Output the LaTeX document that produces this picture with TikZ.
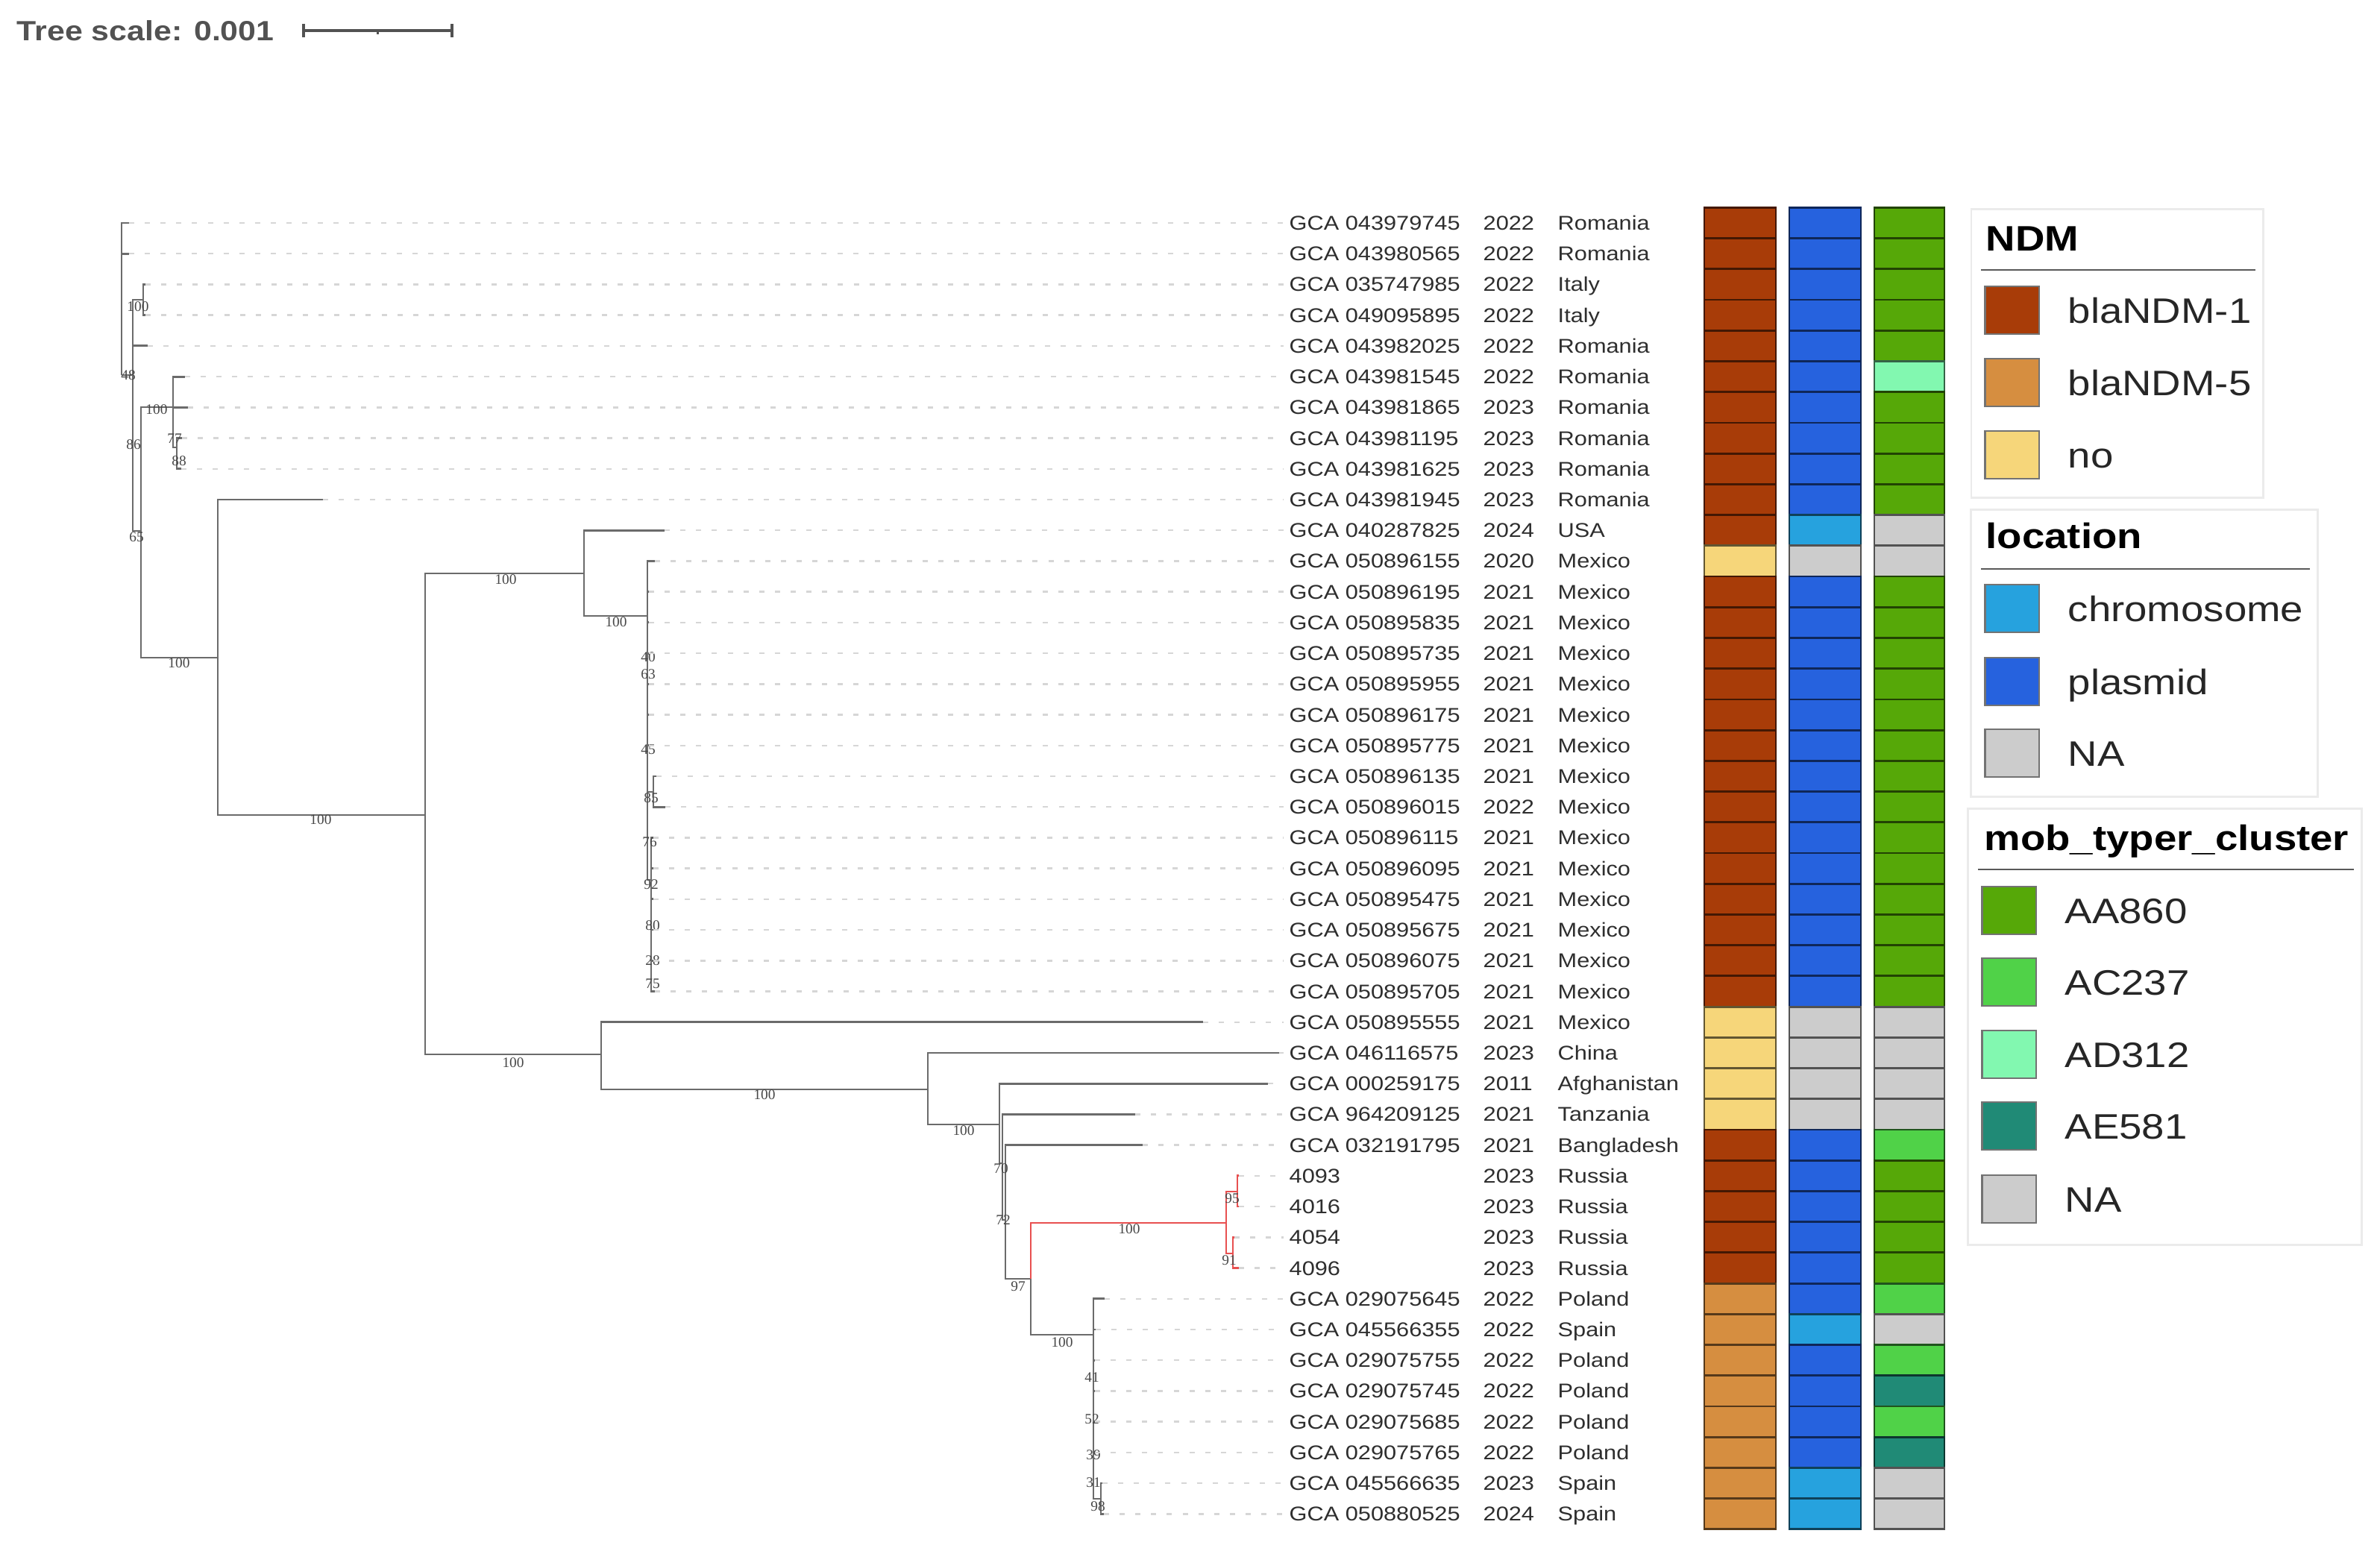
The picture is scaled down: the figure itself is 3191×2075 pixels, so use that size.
\documentclass[tikz,border=0pt]{standalone}
\usepackage{fontspec}
\setmainfont[FakeStretch=1.15]{Liberation Sans}
\newfontfamily\bootfont{Liberation Serif}
\usepackage{tikz}
\usetikzlibrary{positioning}

\definecolor{ndmone}{RGB}{168,60,8}
\definecolor{ndmfive}{RGB}{214,142,64}
\definecolor{ndmno}{RGB}{246,214,122}
\definecolor{chrom}{RGB}{38,162,222}
\definecolor{plasm}{RGB}{38,98,222}
\definecolor{nagrey}{RGB}{204,204,204}
\definecolor{aa}{RGB}{86,168,8}
\definecolor{ac}{RGB}{80,210,72}
\definecolor{ad}{RGB}{130,248,176}
\definecolor{ae}{RGB}{32,138,118}
\definecolor{redbr}{RGB}{232,80,80}

\begin{document}
\begin{tikzpicture}[x=0.01cm, y=-0.01cm]
	\tikzstyle{branch}=[draw=black!58, line width=0.8pt]
	\tikzstyle{red_branch}=[draw=redbr, line width=0.8pt]
	\tikzstyle{leader}=[draw=black!16, line width=0.7pt, dash pattern=on 2pt off 4pt, shorten >=2pt]
	\tikzstyle{boot}=[inner sep=0pt, text=black!72, font=\bootfont\fontsize{5.5}{5.5}\selectfont]
	\tikzstyle{leaf_lab}=[anchor=base west, inner sep=0pt, text=black!82, font=\fontsize{7.6}{9}\selectfont]
	\tikzstyle{cell_b}=[rectangle, inner sep=0pt, minimum height=0.4122cm, line width=0.8pt]
	\tikzstyle{leg_box}=[rectangle, draw=black!8, fill=white, line width=0.8pt, inner sep=0pt]
	\tikzstyle{leg_sw}=[rectangle, draw=black!55, line width=0.6pt, minimum width=0.72cm, minimum height=0.64cm, inner sep=0pt]
	\tikzstyle{leg_txt}=[anchor=base west, inner sep=0pt, text=black!85, font=\fontsize{13.5}{16}\selectfont]
	\tikzstyle{leg_title}=[anchor=base west, inner sep=0pt, text=black, font=\bfseries\fontsize{13.5}{16}\selectfont]

	\useasboundingbox (0,0) rectangle (3191,2075);
	\fill[white] (0,0) rectangle (3191,2075);

	% tree scale
	\node[anchor=base west, inner sep=0pt, text=black!68, font=\bfseries\fontsize{10.6}{12}\selectfont] (scale_lab) at (22,54) {Tree scale: 0.001};
	\coordinate (sb0) at (407,41);
	\coordinate (sb1) at (606,41);
	\coordinate (sbm) at (506.5,41);
	\draw[black!68, line width=1.1pt] (sb0) -- (sb1);
	\draw[black!68, line width=1.1pt] ([yshift=2.6pt]sb0) -- ([yshift=-2.6pt]sb0);
	\draw[black!68, line width=1.1pt] ([yshift=2.6pt]sb1) -- ([yshift=-2.6pt]sb1);
	\draw[black!68, line width=0.8pt] (sbm) -- ([yshift=-1.4pt]sbm);

	% internal nodes of the tree
	\coordinate (nA) at (163,503);
	\coordinate (nB) at (178,503);
	\coordinate (nC) at (192,402);
	\coordinate (n65) at (189,712);
	\coordinate (nD) at (232,546);
	\coordinate (nD3) at (237,600);
	\coordinate (nE) at (292,882);
	\coordinate (nF) at (570,1093);
	\coordinate (nG) at (783,769);
	\coordinate (nI) at (868,826);
	\coordinate (nI3) at (876,1062);
	\coordinate (nI2) at (873,1180);
	\coordinate (nH) at (806,1414);
	\coordinate (nJ) at (1244,1461);
	\coordinate (nK) at (1340,1508);
	\coordinate (nL) at (1344,1560);
	\coordinate (nM) at (1348,1636);
	\coordinate (nP) at (1382,1715);
	\coordinate (nR) at (1644,1640);
	\coordinate (nR1) at (1659,1598);
	\coordinate (nR2) at (1653,1681);
	\coordinate (nQ) at (1466,1790);
	\coordinate (nQ2) at (1476,2010);

	% leaf tips
	\foreach \i/\lx in {1/173, 2/173, 3/195, 4/195, 5/198, 6/248, 7/252, 8/244, 9/243, 10/433,
		11/891, 12/878, 13/870, 14/870, 15/870, 16/870, 17/870, 18/870, 19/880, 20/892,
		21/876, 22/876, 23/876, 24/876, 25/876, 26/878, 27/1613, 28/1715, 29/1700, 30/1522,
		31/1532, 32/1661, 33/1661, 34/1655, 35/1661, 36/1481, 37/1469, 38/1468, 39/1468, 40/1468,
		41/1468, 42/1478, 43/1480}
		\coordinate (l\i) at (\lx,{299+41.22*(\i-1)});

	% branches
	\foreach \p/\c in {nA/l1, nA/l2, nA/nB, nB/nC, nB/l5, nB/n65, nC/l3, nC/l4,
		n65/nD, n65/nE, nD/l6, nD/l7, nD/nD3, nD3/l8, nD3/l9, nE/l10, nE/nF,
		nF/nG, nF/nH, nG/l11, nG/nI, nI/l12, nI/l13, nI/l14, nI/l15, nI/l16, nI/l17, nI/l18,
		nI/nI3, nI/nI2, nI3/l19, nI3/l20, nI2/l21, nI2/l22, nI2/l23, nI2/l24, nI2/l25, nI2/l26,
		nH/l27, nH/nJ, nJ/l28, nJ/nK, nK/l29, nK/nL, nL/l30, nL/nM, nM/l31, nM/nP, nP/nQ,
		nQ/l36, nQ/l37, nQ/l38, nQ/l39, nQ/l40, nQ/l41, nQ/nQ2, nQ2/l42, nQ2/l43}
		\draw[branch] (\p) |- (\c);
	\foreach \p/\c in {nP/nR, nR/nR1, nR/nR2, nR1/l32, nR1/l33, nR2/l34, nR2/l35}
		\draw[red_branch] (\p) |- (\c);

	% bootstrap values
	\foreach \bt/\bx/\by [count=\k] in {100/185/411, 48/172/503, 100/210/549, 77/234/588, 86/179/596,
		88/240/618, 65/183/720, 100/240/889, 100/430/1099, 100/678/777, 100/826/834,
		40/869/881, 63/869/904, 45/869/1005, 85/873/1070, 76/871/1129, 92/873/1186, 80/875/1241,
		28/875/1288, 75/875/1319, 100/688/1425, 100/1025/1468, 100/1292/1516, 70/1342/1567,
		72/1345/1636, 97/1365/1725, 100/1514/1648, 95/1652/1607, 91/1648/1690, 100/1424/1800,
		41/1464/1847, 52/1464/1903, 39/1466/1951, 31/1466/1988, 98/1472/2020}
		\node[boot] (bs\k) at (\bx,\by) {\bt};

	% labels and colour strips
	\foreach \i/\acc/\yr/\ctry/\ca/\cb/\cc in {
		1/GCA 043979745/2022/Romania/ndmone/plasm/aa,
		2/GCA 043980565/2022/Romania/ndmone/plasm/aa,
		3/GCA 035747985/2022/Italy/ndmone/plasm/aa,
		4/GCA 049095895/2022/Italy/ndmone/plasm/aa,
		5/GCA 043982025/2022/Romania/ndmone/plasm/aa,
		6/GCA 043981545/2022/Romania/ndmone/plasm/ad,
		7/GCA 043981865/2023/Romania/ndmone/plasm/aa,
		8/GCA 043981195/2023/Romania/ndmone/plasm/aa,
		9/GCA 043981625/2023/Romania/ndmone/plasm/aa,
		10/GCA 043981945/2023/Romania/ndmone/plasm/aa,
		11/GCA 040287825/2024/USA/ndmone/chrom/nagrey,
		12/GCA 050896155/2020/Mexico/ndmno/nagrey/nagrey,
		13/GCA 050896195/2021/Mexico/ndmone/plasm/aa,
		14/GCA 050895835/2021/Mexico/ndmone/plasm/aa,
		15/GCA 050895735/2021/Mexico/ndmone/plasm/aa,
		16/GCA 050895955/2021/Mexico/ndmone/plasm/aa,
		17/GCA 050896175/2021/Mexico/ndmone/plasm/aa,
		18/GCA 050895775/2021/Mexico/ndmone/plasm/aa,
		19/GCA 050896135/2021/Mexico/ndmone/plasm/aa,
		20/GCA 050896015/2022/Mexico/ndmone/plasm/aa,
		21/GCA 050896115/2021/Mexico/ndmone/plasm/aa,
		22/GCA 050896095/2021/Mexico/ndmone/plasm/aa,
		23/GCA 050895475/2021/Mexico/ndmone/plasm/aa,
		24/GCA 050895675/2021/Mexico/ndmone/plasm/aa,
		25/GCA 050896075/2021/Mexico/ndmone/plasm/aa,
		26/GCA 050895705/2021/Mexico/ndmone/plasm/aa,
		27/GCA 050895555/2021/Mexico/ndmno/nagrey/nagrey,
		28/GCA 046116575/2023/China/ndmno/nagrey/nagrey,
		29/GCA 000259175/2011/Afghanistan/ndmno/nagrey/nagrey,
		30/GCA 964209125/2021/Tanzania/ndmno/nagrey/nagrey,
		31/GCA 032191795/2021/Bangladesh/ndmone/plasm/ac,
		32/4093/2023/Russia/ndmone/plasm/aa,
		33/4016/2023/Russia/ndmone/plasm/aa,
		34/4054/2023/Russia/ndmone/plasm/aa,
		35/4096/2023/Russia/ndmone/plasm/aa,
		36/GCA 029075645/2022/Poland/ndmfive/plasm/ac,
		37/GCA 045566355/2022/Spain/ndmfive/chrom/nagrey,
		38/GCA 029075755/2022/Poland/ndmfive/plasm/ac,
		39/GCA 029075745/2022/Poland/ndmfive/plasm/ae,
		40/GCA 029075685/2022/Poland/ndmfive/plasm/ac,
		41/GCA 029075765/2022/Poland/ndmfive/plasm/ae,
		42/GCA 045566635/2023/Spain/ndmfive/chrom/nagrey,
		43/GCA 050880525/2024/Spain/ndmfive/chrom/nagrey}
	{
		\pgfmathsetmacro\yy{299+41.22*(\i-1)}
		\node[leaf_lab] (lab\i) at (1728,{\yy+9.5}) {\acc};
		\node[leaf_lab] (yr\i) at (1988,{\yy+9.5}) {\yr};
		\node[leaf_lab] (ct\i) at (2088,{\yy+9.5}) {\ctry};
		\draw[leader] (l\i) -- (l\i -| lab\i.west);
		\node[cell_b, minimum width=0.96cm, fill=\ca, draw=\ca!40!black] (ca\i) at (2333,\yy) {};
		\node[cell_b, minimum width=0.96cm, fill=\cb, draw=\cb!40!black] (cb\i) at (2447,\yy) {};
		\node[cell_b, minimum width=0.94cm, fill=\cc, draw=\cc!40!black] (cc\i) at (2560,\yy) {};
	}

	% legend NDM
	\node[leg_box, minimum width=3.91cm, minimum height=3.86cm] (box_ndm) at (2838.5,474) {};
	\node[leg_title] (t_ndm) at (2662,336) {NDM};
	\draw[black!65, line width=0.6pt] (2656,362) -- (3024,362);
	\foreach \col/\txt/\yc [count=\k] in {ndmone/blaNDM-1/416, ndmfive/blaNDM-5/513, ndmno/no/610} {
		\node[leg_sw, fill=\col] (sw_ndm\k) at (2697.5,\yc) {};
		\node[leg_txt] (tx_ndm\k) at (2772,{\yc+17}) {\txt};
	}

	% legend location
	\node[leg_box, minimum width=4.64cm, minimum height=3.84cm] (box_loc) at (2875,876) {};
	\node[leg_title] (t_loc) at (2662,735) {location};
	\draw[black!65, line width=0.6pt] (2656,763) -- (3097,763);
	\foreach \col/\txt/\yc [count=\k] in {chrom/chromosome/816, plasm/plasmid/914, nagrey/NA/1010} {
		\node[leg_sw, fill=\col] (sw_loc\k) at (2697.5,\yc) {};
		\node[leg_txt] (tx_loc\k) at (2772,{\yc+17}) {\txt};
	}

	% legend mob_typer_cluster
	\node[leg_box, minimum width=5.27cm, minimum height=5.84cm] (box_mob) at (2902.5,1377) {};
	\node[leg_title] (t_mob) at (2660,1140) {mob\_typer\_cluster};
	\draw[black!65, line width=0.6pt] (2652,1166) -- (3156,1166);
	\foreach \col/\txt/\yc [count=\k] in {aa/AA860/1221, ac/AC237/1317, ad/AD312/1414, ae/AE581/1510, nagrey/NA/1608} {
		\node[leg_sw, fill=\col] (sw_mob\k) at (2693.5,\yc) {};
		\node[leg_txt] (tx_mob\k) at (2768,{\yc+17}) {\txt};
	}
\end{tikzpicture}
\end{document}
